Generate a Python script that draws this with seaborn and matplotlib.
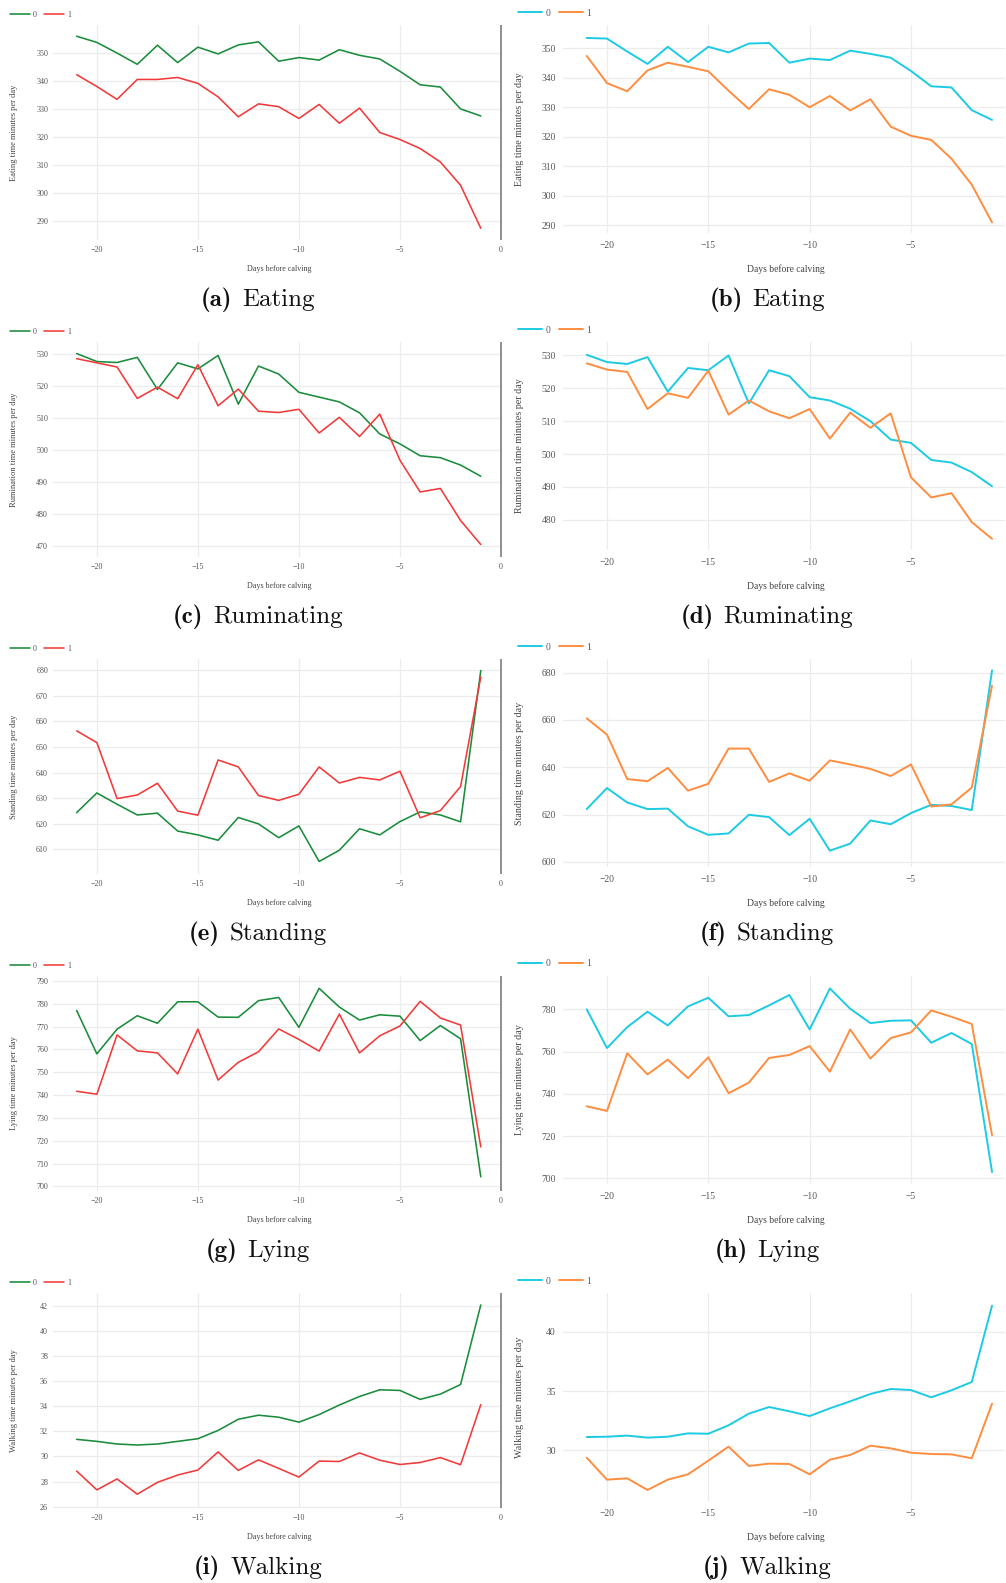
import matplotlib
matplotlib.use("Agg")
import matplotlib.pyplot as plt
from matplotlib.offsetbox import TextArea, HPacker, AnchoredOffsetbox
import numpy as np
import pandas as pd
import seaborn as sns

# ---------------------------------------------------------------- data
days = list(range(-21, 0))
groups = ["0", "1"]

eat_a0 = [355.8, 353.6, 349.8, 345.8, 352.6, 346.4, 351.9, 349.5, 352.7, 353.8, 346.9,
          348.2, 347.3, 351.0, 349.0, 347.7, 343.3, 338.5, 337.7, 329.9, 327.4]
eat_a1 = [342.1, 337.9, 333.3, 340.4, 340.4, 341.1, 339.0, 334.2, 327.1, 331.7, 330.7,
          326.5, 331.5, 324.8, 330.2, 321.5, 319.0, 315.8, 311.0, 302.7, 287.4]
eat_b0 = [353.5, 353.3, 348.9, 344.7, 350.5, 345.3, 350.5, 348.6, 351.6, 351.8, 345.1,
          346.5, 346.0, 349.2, 348.1, 346.8, 342.3, 337.1, 336.7, 329.0, 325.7]
eat_b1 = [347.4, 338.2, 335.4, 342.5, 345.1, 343.7, 342.2, 335.6, 329.4, 336.1, 334.2,
          330.0, 333.8, 328.9, 332.7, 323.4, 320.3, 318.9, 312.5, 303.7, 290.9]

rum_c0 = [530.0, 527.5, 527.2, 528.8, 518.8, 527.1, 525.2, 529.4, 514.2, 526.1, 523.6,
          517.9, 516.4, 514.9, 511.5, 504.9, 501.8, 498.1, 497.5, 495.2, 491.7]
rum_c1 = [528.4, 527.1, 525.8, 516.0, 519.5, 515.9, 526.5, 513.7, 518.9, 512.0, 511.6,
          512.6, 505.2, 510.1, 504.1, 511.1, 496.7, 486.8, 487.9, 477.9, 470.4]
rum_d0 = [530.2, 528.0, 527.4, 529.5, 519.0, 526.2, 525.5, 530.0, 515.4, 525.5, 523.7,
          517.3, 516.3, 513.8, 510.0, 504.4, 503.4, 498.2, 497.4, 494.5, 490.2]
rum_d1 = [527.6, 525.7, 525.0, 513.7, 518.5, 517.1, 525.4, 512.0, 516.3, 513.0, 510.9,
          513.7, 504.7, 512.6, 508.0, 512.4, 492.9, 486.8, 488.1, 479.3, 474.2]

std_e0 = [624.3, 632.0, 627.6, 623.4, 624.1, 617.1, 615.6, 613.5, 622.4, 619.9, 614.5,
          619.1, 605.2, 609.6, 618.0, 615.6, 620.8, 624.6, 623.4, 620.7, 679.9]
std_e1 = [656.3, 651.7, 629.8, 631.2, 635.8, 624.9, 623.3, 644.9, 642.2, 631.0, 629.1,
          631.5, 642.2, 635.9, 638.1, 637.1, 640.5, 622.3, 625.1, 634.5, 677.4]
std_f0 = [622.3, 631.2, 625.1, 622.3, 622.5, 615.0, 611.4, 612.0, 619.9, 618.9, 611.3,
          618.2, 604.7, 607.7, 617.5, 615.9, 620.6, 624.1, 623.6, 621.9, 681.0]
std_f1 = [660.7, 653.8, 635.0, 634.1, 639.7, 630.1, 633.0, 647.9, 647.9, 633.8, 637.4,
          634.3, 642.9, 641.2, 639.3, 636.3, 641.2, 623.4, 624.3, 631.4, 674.5]

lie_g0 = [777.1, 758.1, 768.9, 774.8, 771.5, 780.9, 780.9, 774.2, 774.1, 781.4, 782.8,
          769.7, 786.8, 778.6, 772.9, 775.2, 774.6, 763.9, 770.5, 764.7, 704.2]
lie_g1 = [741.7, 740.4, 766.4, 759.4, 758.5, 749.3, 768.9, 746.6, 754.4, 759.0, 769.0,
          764.4, 759.3, 775.5, 758.5, 766.0, 770.3, 781.1, 773.8, 770.7, 717.3]
lie_h0 = [780.0, 761.7, 771.6, 778.9, 772.4, 781.4, 785.5, 776.7, 777.3, 781.9, 786.8,
          770.5, 789.9, 780.3, 773.5, 774.6, 774.8, 764.2, 768.8, 763.6, 703.0]
lie_h1 = [734.1, 731.9, 759.2, 749.2, 756.2, 747.4, 757.3, 740.3, 745.3, 757.0, 758.4,
          762.6, 750.5, 770.5, 756.7, 766.4, 769.1, 779.5, 776.5, 773.1, 720.4]

walk_i0 = [31.36, 31.20, 30.99, 30.91, 30.99, 31.20, 31.41, 32.07, 32.96, 33.28, 33.12,
           32.73, 33.33, 34.09, 34.77, 35.30, 35.25, 34.54, 34.96, 35.72, 42.05]
walk_i1 = [28.84, 27.34, 28.21, 27.00, 27.94, 28.52, 28.92, 30.36, 28.89, 29.73, 29.05,
           28.36, 29.63, 29.60, 30.28, 29.70, 29.36, 29.52, 29.91, 29.34, 34.12]
walk_j0 = [31.12, 31.15, 31.24, 31.07, 31.15, 31.43, 31.40, 32.11, 33.09, 33.65, 33.29,
           32.89, 33.54, 34.13, 34.75, 35.17, 35.08, 34.47, 35.06, 35.76, 42.19]
walk_j1 = [29.38, 27.53, 27.64, 26.66, 27.53, 27.98, 29.13, 30.31, 28.68, 28.88, 28.85,
           27.98, 29.21, 29.61, 30.39, 30.17, 29.80, 29.69, 29.66, 29.33, 33.93]

y_titles = ["Eating time minutes per day", "Rumination time minutes per day",
            "Standing time minutes per day", "Lying time minutes per day",
            "Walking time minutes per day"]
captions = ["Eating", "Ruminating", "Standing", "Lying", "Walking"]
letters = ["a", "b", "c", "d", "e", "f", "g", "h", "i", "j"]

left_ticks = [list(range(290, 351, 10)), list(range(470, 531, 10)), list(range(610, 681, 10)),
              list(range(700, 791, 10)), list(range(26, 43, 2))]
right_ticks = [list(range(290, 351, 10)), list(range(480, 531, 10)), list(range(600, 681, 20)),
               list(range(700, 781, 20)), [30, 35, 40]]
left_ylims = [(283.2, 359.8), (466.5, 533.6), (600.3, 684.4), (698.0, 792.2), (25.9, 43.0)]
right_ylims = [(287.3, 357.9), (470.8, 534.1), (597.8, 685.8), (697.3, 795.8), (25.73, 43.26)]

left_series = [(eat_a0, eat_a1), (rum_c0, rum_c1), (std_e0, std_e1), (lie_g0, lie_g1), (walk_i0, walk_i1)]
right_series = [(eat_b0, eat_b1), (rum_d0, rum_d1), (std_f0, std_f1), (lie_h0, lie_h1), (walk_j0, walk_j1)]

left_palette = {"0": "#1a8c3c", "1": "#f23a3a"}
right_palette = {"0": "#1ccbe3", "1": "#ff8d3f"}

# ---------------------------------------------------------------- style
sns.set_theme(style="whitegrid")
plt.rcParams["font.family"] = ["Liberation Serif", "DejaVu Serif"]

W, H = 1006, 1583
fig = plt.figure(figsize=(W / 100, H / 100), dpi=100)
fig.patch.set_facecolor("white")


def frame(x0, y0, w, h):
    return [x0 / W, 1 - (y0 + h) / H, w / W, h / H]


def draw_panel(rect, s0, s1, palette, ylim, yticks, xlim, xticks, ytitle,
               fs, lw, label_pad, ylab_x, xlab_y, leg_anchor, zero_line):
    ax = fig.add_axes(rect)
    df = pd.DataFrame({
        "day": days * 2,
        "value": list(s0) + list(s1),
        "group": ["0"] * len(days) + ["1"] * len(days),
    })
    sns.lineplot(data=df, x="day", y="value", hue="group", hue_order=groups,
                 palette=palette, linewidth=lw, ax=ax, legend=True)
    ax.set_xlim(*xlim)
    ax.set_ylim(*ylim)
    ax.set_xticks(xticks)
    ax.set_yticks(yticks)
    ax.set_xticklabels([f"\u2212{abs(t)}" if t < 0 else str(t) for t in xticks])
    ax.set_yticklabels([str(t) for t in yticks])
    for sp in ax.spines.values():
        sp.set_visible(False)
    ax.grid(True, color="#ececec", linewidth=0.9)
    ax.set_facecolor("white")
    ax.tick_params(axis="both", length=0, labelsize=fs, labelcolor="#555555")
    ax.tick_params(axis="y", pad=label_pad)
    ax.tick_params(axis="x", pad=label_pad + 1)
    if zero_line:
        ax.axvline(0, color="#8f8f8f", linewidth=1.4, zorder=1)
    ax.set_xlabel("Days before calving", fontsize=fs, color="#444444")
    ax.set_ylabel(ytitle, fontsize=fs * 1.05, color="#444444")
    ax.xaxis.set_label_coords(0.505, xlab_y)
    ax.yaxis.set_label_coords(ylab_x, 0.5)
    handles, labels = ax.get_legend_handles_labels()
    ax.legend(handles, labels, loc="center left", bbox_to_anchor=leg_anchor,
              ncol=2, frameon=False, fontsize=fs, handlelength=2.5,
              handletextpad=0.35, columnspacing=0.9, borderpad=0, borderaxespad=0,
              labelcolor="#555555")
    return ax


def caption(cx, cy, letter, word):
    bold = TextArea(f"({letter})", textprops=dict(family="cmb10", fontsize=18, color="#111111"))
    plain = TextArea(word, textprops=dict(family="cmr10", fontsize=18, color="#111111"))
    box = HPacker(children=[bold, plain], align="baseline", pad=0, sep=7)
    anchored = AnchoredOffsetbox(loc="center", child=box, pad=0, frameon=False,
                                 bbox_to_anchor=(cx / W, 1 - cy / H),
                                 bbox_transform=fig.transFigure, borderpad=0)
    fig.add_artist(anchored)


row_pitch = 317
for r in range(5):
    top = 25 + row_pitch * r
    lh = 215
    draw_panel(frame(53, top, 449, lh), *left_series[r], left_palette,
               left_ylims[r], left_ticks[r], (-22.17, 0.05), [-20, -15, -10, -5, 0],
               y_titles[r], fs=5.8, lw=1.15, label_pad=3.6,
               ylab_x=-35 / 449, xlab_y=-25 / lh, leg_anchor=(-43 / 449, 1 + 10 / lh),
               zero_line=True)
    rh = 208
    draw_panel(frame(563, top, 442, rh), *right_series[r], right_palette,
               right_ylims[r], right_ticks[r], (-22.17, -0.36), [-20, -15, -10, -5],
               y_titles[r], fs=6.9, lw=1.4, label_pad=5,
               ylab_x=-39 / 442, xlab_y=-31 / rh, leg_anchor=(-45 / 442, 1 + 12 / rh),
               zero_line=False)
    cy = 300 + row_pitch * r
    caption(258, cy, letters[2 * r], captions[r])
    caption(767, cy, letters[2 * r + 1], captions[r])

fig.savefig("out.png", dpi=100, facecolor="white")
